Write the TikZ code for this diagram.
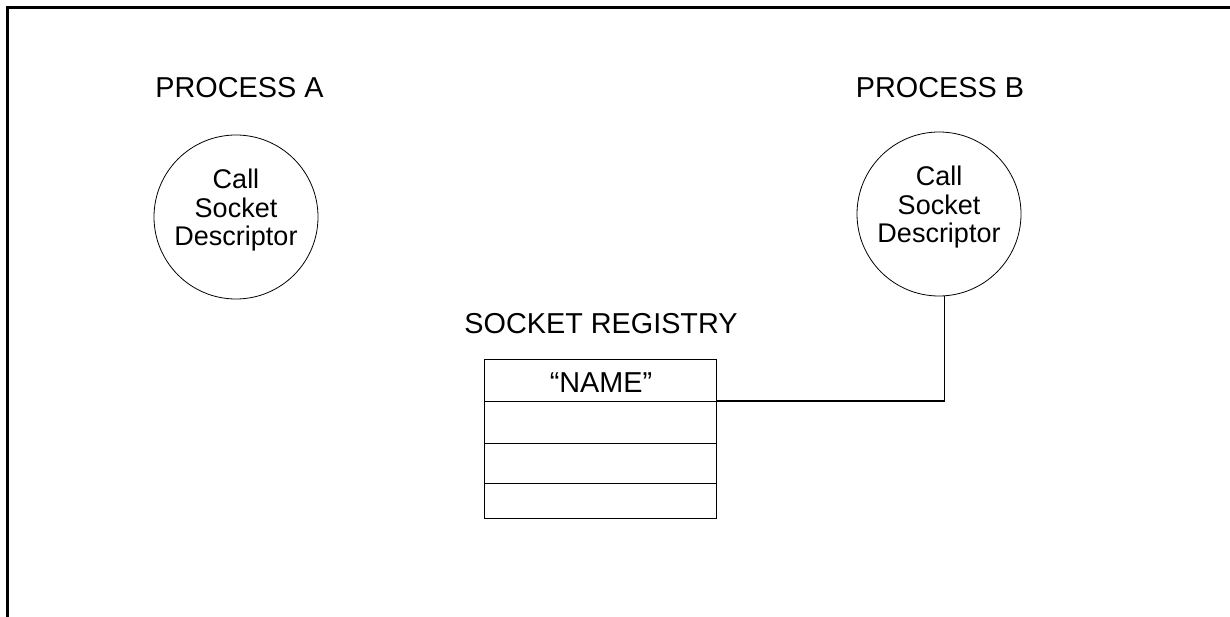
\documentclass[tikz,border=0pt]{standalone}
\usepackage{fontspec}
\setmainfont{Liberation Sans}
\begin{document}
\begin{tikzpicture}[x=1pt,y=-1pt,
  heading/.style={anchor=base,inner sep=0pt,font=\fontsize{28.8}{29}\selectfont},
  proc/.style={draw,circle,line width=0.8pt,minimum size=164pt,inner sep=0pt},
  proctext/.style={align=center,inner sep=0pt,font=\fontsize{27}{28.5}\selectfont},
  regbox/.style={draw,line width=0.9pt,minimum width=232pt,minimum height=159pt,inner sep=0pt},
  rowline/.style={line width=0.9pt},
  conn/.style={line width=1.4pt},
  frame/.style={line width=3pt}]
\useasboundingbox (0,0) rectangle (1230,617);
% frame
\coordinate (f1) at (7.5,617);
\coordinate (f2) at (7.5,8);
\coordinate (f3) at (1230,8);
\draw[frame] (f1) -- (f2) -- (f3);
% headings
\node[heading] (hA) at (239.5,98) {PROCESS A};
\node[heading] (hB) at (940,98) {PROCESS B};
\node[heading] (hR) at (601,333) {SOCKET REGISTRY};
% processes
\node[proc] (A) at (236,217) {};
\node[proctext] (tA) at ([yshift=6.5pt]A.center) {Call\\Socket\\Descriptor};
\node[proc] (B) at (939,214) {};
\node[proctext] (tB) at ([yshift=6.5pt]B.center) {Call\\Socket\\Descriptor};
% registry table
\node[regbox] (reg) at (600,438.5) {};
\coordinate (r1l) at (484,401);
\coordinate (r1) at (716,401);
\coordinate (r2l) at (484,443);
\coordinate (r2) at (716,443);
\coordinate (r3l) at (484,483);
\coordinate (r3) at (716,483);
\draw[rowline] (r1l) -- (r1);
\draw[rowline] (r2l) -- (r2);
\draw[rowline] (r3l) -- (r3);
\node[heading] (name) at (601,392) {``NAME''};
% connector
\draw[conn] (B.-86) |- (r1);
\end{tikzpicture}
\end{document}
